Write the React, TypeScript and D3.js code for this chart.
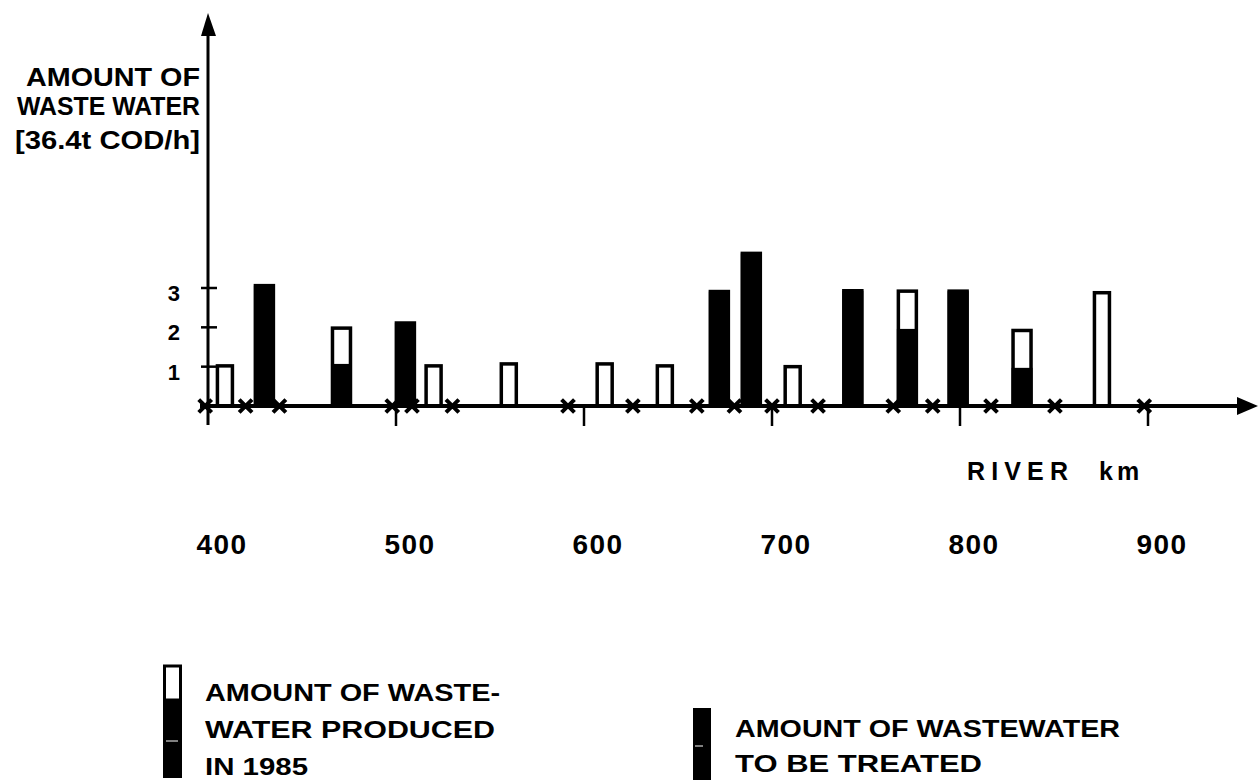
import React from "react";
import * as d3 from "d3";

// ---- data ----
const barKm = [409, 430, 471, 505, 520, 560, 611, 643, 672, 689, 711, 743, 772, 799, 833, 875.5];
const producedValues = [1.02, 3.06, 1.98, 2.11, 1.02, 1.07, 1.07, 1.02, 2.91, 3.88, 1.0, 2.93, 2.92, 2.92, 1.92, 2.88];
const treatedValues = [0, 3.06, 1.07, 2.11, 0, 0, 0, 0, 2.91, 3.88, 0, 2.93, 1.96, 2.92, 0.97, 0];
const stationKm = [398.5, 420, 438, 498, 508.5, 530, 591.5, 626, 660, 680, 700, 724.5, 764.5, 785.5, 816.5, 850.5, 898];
const xTickValues = [400, 500, 600, 700, 800, 900];
const yTickValues = [1, 2, 3];
const yTitleLines = ["AMOUNT OF", "WASTE WATER", "[36.4t COD/h]"];
const legendProducedLines = ["AMOUNT OF WASTE-", "WATER PRODUCED", "IN 1985"];
const legendTreatedLines = ["AMOUNT OF WASTEWATER", "TO BE TREATED"];

const W = 1258;
const H = 782;
const FONT = "'Liberation Sans', Arial, sans-serif";

export default function App() {
  const x = d3.scaleLinear().domain([400, 900]).range([208, 1148]);
  const y = d3.scaleLinear().domain([0, 3]).range([406, 288]);
  const base = y(0);
  const cross = d3.symbol().type(d3.symbolX).size(110)();

  const bars = barKm.map((km, i) => ({
    km,
    produced: producedValues[i],
    treated: treatedValues[i],
  }));

  const yTitleLens = [174, 183, 185];
  const yTitleBase = [86, 115, 149];
  const leg1Lens = [295, 290, 103];
  const leg1Base = [701, 738, 775];
  const leg2Lens = [385, 247];
  const leg2Base = [737, 772];

  return (
    <svg
      width={W}
      height={H}
      style={{ position: "absolute", left: 0, top: 0, display: "block", background: "#fff" }}
      fontFamily={FONT}
      fontWeight="bold"
    >
      <rect x={0} y={0} width={W} height={H} fill="#fff" />

      {/* y title */}
      {yTitleLines.map((t, i) => (
        <text key={t} x={200 - yTitleLens[i]} y={yTitleBase[i]} fontSize={25} textLength={yTitleLens[i]} lengthAdjust="spacingAndGlyphs">
          {t}
        </text>
      ))}

      {/* bars */}
      {bars.map((b, i) => {
        const w = b.treated === 0 ? 15 : 18;
        const cx = x(b.km);
        return (
          <g key={i}>
            <rect
              x={cx - w / 2}
              y={y(b.produced)}
              width={w}
              height={base - y(b.produced)}
              fill="#fff"
              stroke="#000"
              strokeWidth={3.5}
            />
            {b.treated > 0 && (
              <rect
                x={cx - w / 2 - 1.5}
                y={y(b.treated)}
                width={w + 3}
                height={base - y(b.treated)}
                fill="#000"
              />
            )}
          </g>
        );
      })}

      {/* y axis */}
      <line x1={208} x2={208} y1={30} y2={425} stroke="#000" strokeWidth={3} />
      <path d="M208,13 L201,36 L216,36 Z" fill="#000" />
      {yTickValues.map((v) => (
        <g key={v}>
          <line x1={201} x2={217} y1={y(v)} y2={y(v)} stroke="#000" strokeWidth={2.5} />
          <text x={180} y={y(v) + 13} fontSize={22} textAnchor="end">
            {v}
          </text>
        </g>
      ))}

      {/* x axis */}
      <line x1={200} x2={1242} y1={base} y2={base} stroke="#000" strokeWidth={4} />
      <path d={`M1258,${base} L1237,${base - 9} L1237,${base + 9} Z`} fill="#000" />
      {xTickValues.map((v) => (
        <g key={v}>
          {v !== 400 && (
            <line x1={x(v)} x2={x(v)} y1={base} y2={base + 20} stroke="#000" strokeWidth={2.5} />
          )}
          <text x={x(v) + 14} y={554} fontSize={28} textAnchor="middle" letterSpacing={1.5}>
            {v}
          </text>
        </g>
      ))}

      {/* stations */}
      {stationKm.map((km, i) => (
        <path
          key={i}
          d={cross as string}
          transform={`translate(${x(km)},${base})`}
          fill="none"
          stroke="#000"
          strokeWidth={4}
        />
      ))}

      <text x={967} y={480} fontSize={25} textLength={101} lengthAdjust="spacing">RIVER</text>
      <text x={1099} y={480} fontSize={25} letterSpacing={4}>km</text>

      {/* legend 1 */}
      <rect x={164.5} y={666} width={16} height={34} fill="#fff" stroke="#000" strokeWidth={3} />
      <rect x={163} y={700} width={19} height={78} fill="#000" />
      <line x1={166} x2={178} y1={741} y2={741} stroke="#fff" strokeWidth={1} />
      {legendProducedLines.map((t, i) => (
        <text key={t} x={205} y={leg1Base[i]} fontSize={24} textLength={leg1Lens[i]} lengthAdjust="spacingAndGlyphs">
          {t}
        </text>
      ))}

      {/* legend 2 */}
      <rect x={693} y={708} width={18} height={72} fill="#000" />
      <line x1={695} x2={703} y1={746} y2={746} stroke="#fff" strokeWidth={1} />
      {legendTreatedLines.map((t, i) => (
        <text key={t} x={735} y={leg2Base[i]} fontSize={24} textLength={leg2Lens[i]} lengthAdjust="spacingAndGlyphs">
          {t}
        </text>
      ))}
    </svg>
  );
}
